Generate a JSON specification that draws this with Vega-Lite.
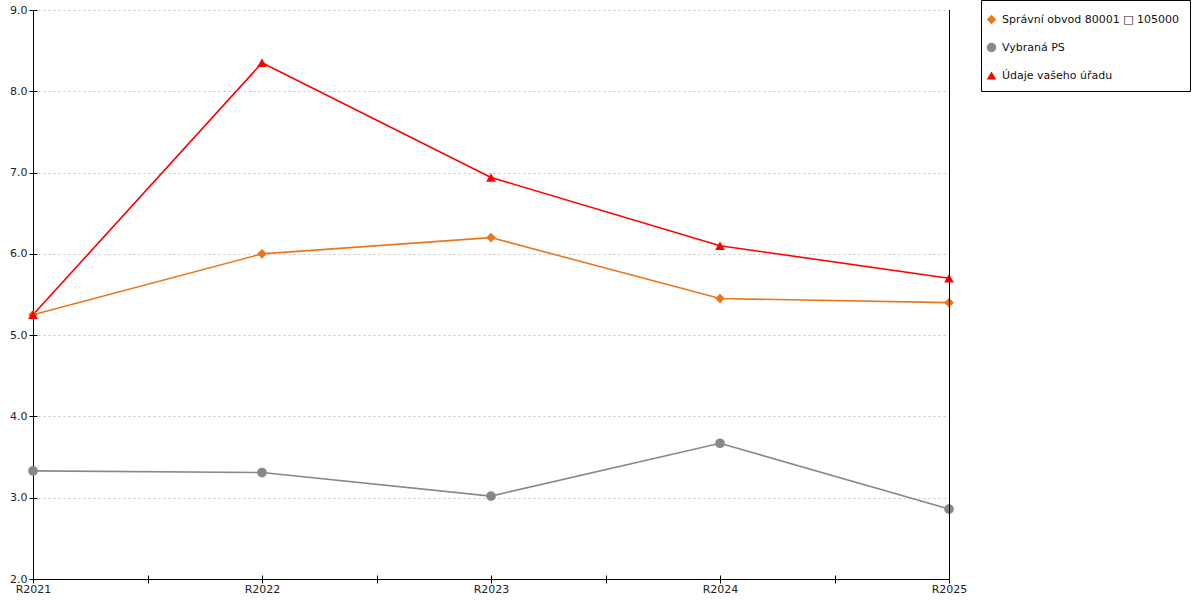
{
  "$schema": "https://vega.github.io/schema/vega-lite/v6.json",
  "width": 916,
  "height": 569,
  "autosize": {"type": "none"},
  "padding": {"left": 33, "top": 10, "right": 251, "bottom": 21},
  "background": "white",
  "data": {
    "values": [
      {"rok": 2021, "serie": "Správní obvod 80001 □ 105000", "hodnota": 5.25},
      {"rok": 2022, "serie": "Správní obvod 80001 □ 105000", "hodnota": 6.0},
      {"rok": 2023, "serie": "Správní obvod 80001 □ 105000", "hodnota": 6.2},
      {"rok": 2024, "serie": "Správní obvod 80001 □ 105000", "hodnota": 5.45},
      {"rok": 2025, "serie": "Správní obvod 80001 □ 105000", "hodnota": 5.4},
      {"rok": 2021, "serie": "Vybraná PS", "hodnota": 3.33},
      {"rok": 2022, "serie": "Vybraná PS", "hodnota": 3.31},
      {"rok": 2023, "serie": "Vybraná PS", "hodnota": 3.02},
      {"rok": 2024, "serie": "Vybraná PS", "hodnota": 3.67},
      {"rok": 2025, "serie": "Vybraná PS", "hodnota": 2.86},
      {"rok": 2021, "serie": "Údaje vašeho úřadu", "hodnota": 5.25},
      {"rok": 2022, "serie": "Údaje vašeho úřadu", "hodnota": 8.35},
      {"rok": 2023, "serie": "Údaje vašeho úřadu", "hodnota": 6.94},
      {"rok": 2024, "serie": "Údaje vašeho úřadu", "hodnota": 6.1},
      {"rok": 2025, "serie": "Údaje vašeho úřadu", "hodnota": 5.7}
    ]
  },
  "layer": [
    {
      "mark": {"type": "line", "strokeWidth": 1.6},
      "encoding": {
        "x": {
          "field": "rok",
          "type": "quantitative",
          "scale": {"domain": [2021, 2025], "nice": false, "zero": false},
          "axis": {
            "title": null,
            "values": [2021, 2021.5, 2022, 2022.5, 2023, 2023.5, 2024, 2024.5, 2025],
            "labelExpr": "datum.value % 1 == 0 ? 'R' + datum.value : ''",
            "grid": false,
            "tickSize": 4,
            "labelPadding": 0,
            "labelFlush": false,
            "labelOverlap": false
          }
        },
        "y": {
          "field": "hodnota",
          "type": "quantitative",
          "scale": {"domain": [2, 9], "nice": false, "zero": false},
          "axis": {
            "title": null,
            "values": [2, 3, 4, 5, 6, 7, 8, 9],
            "format": ".1f",
            "grid": true,
            "gridColor": "#c4c4c4",
            "gridDash": [2, 3],
            "tickSize": 4,
            "labelPadding": 2
          }
        },
        "color": {
          "field": "serie",
          "type": "nominal",
          "sort": null,
          "scale": {
            "domain": ["Správní obvod 80001 □ 105000", "Vybraná PS", "Údaje vašeho úřadu"],
            "range": ["#e8781e", "#888888", "#ff0000"]
          },
          "legend": {
            "title": " ",
            "titleFontSize": 2,
            "titlePadding": 2,
            "orient": "none",
            "legendX": 948,
            "legendY": -10,
            "padding": 10,
            "strokeColor": "#000000",
            "fillColor": "#ffffff",
            "rowPadding": 16,
            "symbolSize": 90,
            "symbolStrokeWidth": 0,
            "symbolOffset": -5,
            "labelFontSize": 11,
            "labelColor": "#111111",
            "labelFont": "DejaVu Sans",
            "labelOffset": 5,
            "labelLimit": 300
          }
        }
      }
    },
    {
      "mark": {"type": "point", "filled": true, "opacity": 1, "size": 95},
      "encoding": {
        "x": {
          "field": "rok",
          "type": "quantitative",
          "axis": {
            "orient": "bottom",
            "title": null,
            "values": [2021, 2021.5, 2022, 2022.5, 2023, 2023.5, 2024, 2024.5, 2025],
            "labels": false,
            "domain": false,
            "grid": false,
            "tickSize": -4
          }
        },
        "y": {
          "field": "hodnota",
          "type": "quantitative",
          "axis": {
            "orient": "left",
            "title": null,
            "values": [2, 3, 4, 5, 6, 7, 8, 9],
            "labels": false,
            "domain": false,
            "grid": false,
            "tickSize": -4
          }
        },
        "color": {"field": "serie", "type": "nominal"},
        "shape": {
          "field": "serie",
          "type": "nominal",
          "sort": null,
          "scale": {
            "domain": ["Správní obvod 80001 □ 105000", "Vybraná PS", "Údaje vašeho úřadu"],
            "range": ["diamond", "circle", "triangle-up"]
          },
          "legend": {
            "title": " ",
            "titleFontSize": 2,
            "titlePadding": 2,
            "orient": "none",
            "legendX": 948,
            "legendY": -10,
            "padding": 10,
            "strokeColor": "#000000",
            "fillColor": "#ffffff",
            "rowPadding": 16,
            "symbolSize": 90,
            "symbolStrokeWidth": 0,
            "symbolOffset": -5,
            "labelFontSize": 11,
            "labelColor": "#111111",
            "labelFont": "DejaVu Sans",
            "labelOffset": 5,
            "labelLimit": 300
          }
        }
      }
    },
    {
      "mark": {"type": "rule", "color": "#000000", "strokeWidth": 1, "xOffset": 0.5},
      "encoding": {
        "x": {"datum": 2025, "type": "quantitative", "axis": null}
      }
    }
  ],
  "resolve": {"axis": {"x": "independent", "y": "independent"}},
  "config": {
    "view": {"stroke": null},
    "font": "DejaVu Sans",
    "axis": {
      "domainColor": "#000000",
      "tickColor": "#000000",
      "labelColor": "#222222",
      "labelFontSize": 11,
      "labelFont": "DejaVu Sans",
      "domainWidth": 1,
      "tickWidth": 1
    }
  }
}
